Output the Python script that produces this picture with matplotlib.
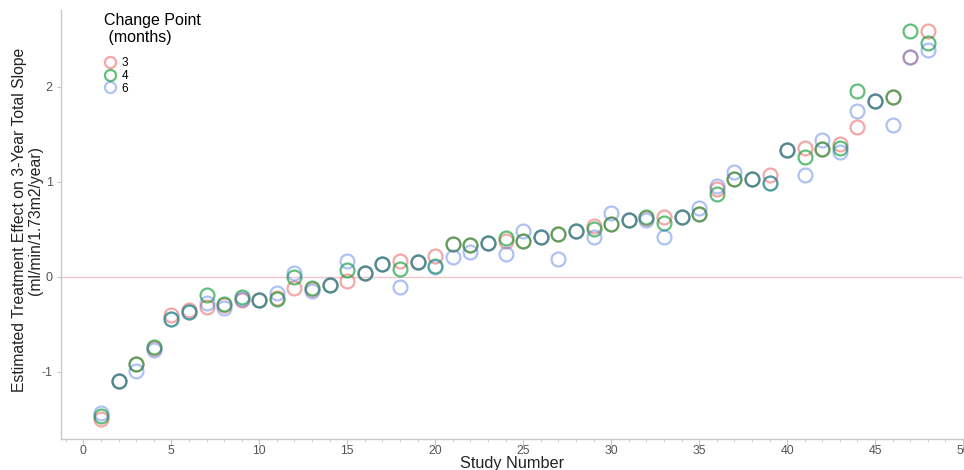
import numpy as np
import matplotlib
matplotlib.use('Agg')
import matplotlib.pyplot as plt
from matplotlib.ticker import MultipleLocator

plt.rcParams['font.family'] = ['Liberation Sans', 'DejaVu Sans']
plt.rcParams['axes.unicode_minus'] = False

# Estimated effects per study for each change point (months)
study = np.arange(1, 49)
cp3 = [-1.50, -1.10, -0.92, -0.75, -0.40, -0.35, -0.32, -0.30, -0.25, -0.245,
       -0.22, -0.12, -0.13, -0.09, -0.045, 0.035, 0.13, 0.165, 0.158, 0.22,
       0.34, 0.335, 0.36, 0.375, 0.375, 0.42, 0.45, 0.48, 0.535, 0.56,
       0.60, 0.615, 0.63, 0.63, 0.66, 0.92, 1.03, 1.03, 1.07, 1.334,
       1.36, 1.34, 1.40, 1.573, 1.853, 1.89, 2.316, 2.59]
cp4 = [-1.47, -1.10, -0.92, -0.74, -0.45, -0.37, -0.19, -0.29, -0.21, -0.245,
       -0.23, 0.0, -0.12, -0.09, 0.07, 0.035, 0.13, 0.08, 0.158, 0.115,
       0.34, 0.335, 0.36, 0.41, 0.375, 0.42, 0.45, 0.48, 0.50, 0.56,
       0.60, 0.63, 0.57, 0.63, 0.657, 0.867, 1.03, 1.03, 0.99, 1.334,
       1.257, 1.34, 1.36, 1.958, 1.853, 1.89, 2.59, 2.467]
cp6 = [-1.44, -1.10, -0.99, -0.77, -0.45, -0.37, -0.28, -0.33, -0.23, -0.245,
       -0.175, 0.04, -0.15, -0.09, 0.165, 0.035, 0.13, -0.105, 0.158, 0.10,
       0.205, 0.265, 0.36, 0.235, 0.485, 0.42, 0.186, 0.48, 0.42, 0.67,
       0.60, 0.60, 0.42, 0.63, 0.72, 0.955, 1.10, 1.03, 0.99, 1.334,
       1.07, 1.44, 1.31, 1.75, 1.853, 1.597, 2.316, 2.39]

series = [('3', cp3, (0.90, 0.24, 0.24), 0.45),
          ('4', cp4, (0.0, 0.60, 0.16), 0.62),
          ('6', cp6, (0.24, 0.43, 0.90), 0.42)]

fig = plt.figure(figsize=(9.64, 4.7), dpi=100)
ax = fig.add_axes([0.0633, 0.066, 0.9357, 0.9128])

ax.axhline(0, color='#f2c4cc', lw=1.0, zorder=1)

for name, vals, col, a in series:
    ax.plot(study, vals, linestyle='none', marker='o', markersize=10,
            markerfacecolor='none', markeredgecolor=col + (a,),
            markeredgewidth=1.6, label=name, zorder=2)

ax.set_xlim(-1.27, 50.0)
ax.set_ylim(-1.71, 2.81)
ax.xaxis.set_major_locator(MultipleLocator(5))
ax.xaxis.set_minor_locator(MultipleLocator(1))
ax.yaxis.set_major_locator(MultipleLocator(1))

for side in ['top', 'right']:
    ax.spines[side].set_visible(False)
for side in ['left', 'bottom']:
    ax.spines[side].set_color('#c8c8c8')
    ax.spines[side].set_linewidth(1.0)

ax.tick_params(which='major', length=4, color='#c8c8c8', labelcolor='#555555',
               labelsize=9, pad=3)
ax.tick_params(which='minor', length=2.5, color='#c8c8c8')
ax.tick_params(axis='x', which='major', pad=0.5, labelsize=8.8)
ax.tick_params(axis='y', which='major', length=3)

ax.set_xlabel('Study Number', fontsize=11.7, color='#222222')
ax.xaxis.set_label_coords(0.5, -0.04)
ax.set_ylabel('Estimated Treatment Effect on 3-Year Total Slope\n(ml/min/1.73m2/year)',
              fontsize=11.3, color='#222222', linespacing=1.05)
ax.yaxis.set_label_coords(-0.02, 0.51)

leg = ax.legend(title='Change Point\n (months)', loc='upper left',
                bbox_to_anchor=(0.042, 1.005), frameon=False, fontsize=8.5,
                title_fontsize=11.5, handletextpad=0.5, labelspacing=0.05,
                borderaxespad=0, markerscale=0.8, handlelength=1.0)
leg._legend_box.align = 'left'
leg._legend_box.sep = 9

fig.savefig('out.png', dpi=100)
